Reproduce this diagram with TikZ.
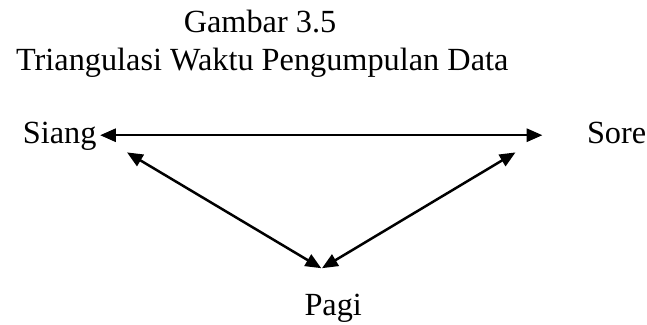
\documentclass[tikz,border=0pt]{standalone}
\usepackage{fontspec}
\setmainfont{Liberation Serif}
\usetikzlibrary{arrows.meta}

\begin{document}
\begin{tikzpicture}[font=\fontsize{12.3}{14}\selectfont,
	teks/.style={inner sep=0pt,anchor=base},
	panah/.style={black,line width=0.95pt,{Triangle[length=6pt,width=5pt]}-{Triangle[length=6pt,width=5pt]}}]
	\useasboundingbox (0,0) rectangle (8.66,4.34);
\node[teks] (judul) at (3.48,3.91) {Gambar 3.5};
\node[teks] (subjudul) at (3.51,3.40) {Triangulasi Waktu Pengumpulan Data};
\node[teks,anchor=base west] (siang) at (0.30,2.42) {Siang};
\node[teks,anchor=base west] (sore) at (7.85,2.42) {Sore};
\node[teks] (pagi) at (4.46,0.12) {Pagi};

\coordinate (ha) at (1.34,2.53);
\coordinate (hb) at (7.26,2.53);
\coordinate (ka) at (1.70,2.30);
\coordinate (kb) at (4.30,0.75);
\coordinate (ra) at (6.90,2.30);
\coordinate (rb) at (4.31,0.75);

\draw[panah] (ha) -- (hb);
\draw[panah] (ka) -- (kb);
\draw[panah] (ra) -- (rb);

\end{tikzpicture}
\end{document}
